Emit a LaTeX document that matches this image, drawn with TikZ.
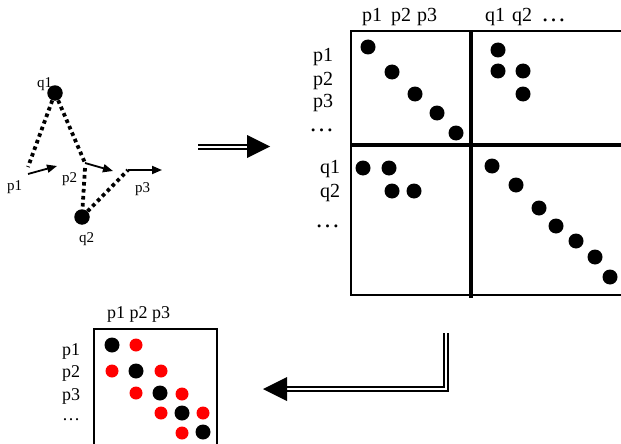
\documentclass[tikz,border=0pt]{standalone}
\usepackage{fontspec}
\setmainfont{Liberation Serif}
\usetikzlibrary{arrows.meta}
\begin{document}
\begin{tikzpicture}[x=1pt,y=-1pt,
  bigdot/.style={circle,fill=black,inner sep=0pt,minimum size=15pt},
  reddot/.style={circle,fill=red,inner sep=0pt,minimum size=13pt},
  vdot/.style={circle,fill=black,inner sep=0pt,minimum size=15.5pt},
  dotline/.style={line width=3.8pt,dash pattern=on 3.6pt off 3.4pt},
  vecarrow/.style={line width=1.8pt,-{Triangle[length=10pt,width=8pt]}},
  biglbl/.style={anchor=base west,inner sep=0pt,font=\fontsize{20}{22}\selectfont},
  smalllbl/.style={anchor=base west,inner sep=0pt,font=\fontsize{18}{20}\selectfont},
  graphlbl/.style={anchor=base west,inner sep=0pt,font=\fontsize{15}{17}\selectfont},
  frameline/.style={line width=1.8pt},
  divider/.style={line width=4.5pt},
  dbl/.style={double,double distance=2pt,line width=1.6pt,line join=miter}]
\useasboundingbox (0,0) rectangle (621,444);

% ---------- left graph ----------
\node[vdot] (q1) at (55,93) {};
\node[vdot] (q2) at (82,217) {};
\coordinate (p1o) at (28,167);
\coordinate (p1s) at (28,174);
\coordinate (p1e) at (57,166);
\coordinate (p2o) at (85,163);
\coordinate (p2e) at (113,171);
\coordinate (p2v) at (85,168);
\coordinate (p3o) at (128,170);
\coordinate (p3e) at (162,170);
\draw[dotline] (q1) -- (p1o);
\draw[dotline] (q1) -- (p2o);
\draw[dotline] (p2v) -- (q2);
\draw[dotline] (q2) -- (p3o);
\draw[vecarrow] (p1s) -- (p1e);
\draw[vecarrow] (p2o) -- (p2e);
\draw[vecarrow] (p3o) -- (p3e);
\node[graphlbl] (lq1) at (37,87) {q1};
\node[graphlbl] (lp1) at (7,190) {p1};
\node[graphlbl] (lp2) at (62,182) {p2};
\node[graphlbl] (lp3) at (135,192) {p3};
\node[graphlbl] (lq2) at (79,242) {q2};

% ---------- right arrow ----------
\coordinate (ra1) at (198,147);
\coordinate (ra2) at (252,147);
\draw[dbl] (ra1) -- (ra2);
\fill (247,135) -- (270,146.5) -- (247,158) -- cycle;

% ---------- big matrix ----------
\draw[frameline] (621,31) -- (351,31) -- (351,295) -- (621,295);
\draw[divider] (471,32) -- (471,298);
\draw[divider] (351,145) -- (621,145);
\node[biglbl] (bh1) at (362,22) {p1\hspace{9pt}p2\hspace{6pt}p3};
\node[biglbl] (bh2) at (485,22) {q1\hspace{7pt}q2\hspace{9pt}{\fontsize{25}{25}\selectfont …}};
\node[biglbl] (br1) at (313,62) {p1};
\node[biglbl] (br2) at (313,85) {p2};
\node[biglbl] (br3) at (313,107) {p3};
\node[biglbl] (br4) at (309,131) {{\fontsize{25}{25}\selectfont …}};
\node[biglbl] (br5) at (320,173) {q1};
\node[biglbl] (br6) at (320,197) {q2};
\node[biglbl] (br7) at (315,227) {{\fontsize{25}{25}\selectfont …}};
\foreach \x/\y [count=\i] in {368/47,392/72,415/94,437/113,456/133,
   498/50,498/71,523/71,523/94,
   363/168,389/168,392/191,414/191,
   492/166,516/185,539/208,556/226,576/241,595/257,610/277}
  \node[bigdot] (bd\i) at (\x,\y) {};

% ---------- L arrow ----------
\coordinate (la1) at (446,333);
\coordinate (la2) at (446,389);
\coordinate (la3) at (285,389);
\draw[dbl] (la1) -- (la2) -- (la3);
\fill (287,377) -- (263,389) -- (287,401) -- cycle;

% ---------- small matrix ----------
\draw[frameline] (94,445) -- (94,329) -- (217,329) -- (217,445);
\node[smalllbl] (sh) at (107,318) {p1 p2 p3};
\node[smalllbl] (sr1) at (62,355) {p1};
\node[smalllbl] (sr2) at (62,377) {p2};
\node[smalllbl] (sr3) at (62,400) {p3};
\node[smalllbl] (sr4) at (62,420) {…};
\foreach \x/\y [count=\i] in {112/345,136/371,160/393,182/413,203/432}
  \node[bigdot] (sb\i) at (\x,\y) {};
\foreach \x/\y [count=\i] in {136/345,112/371,161/371,136/393,182/394,161/413,203/413,182/433}
  \node[reddot] (sd\i) at (\x,\y) {};
\end{tikzpicture}
\end{document}
